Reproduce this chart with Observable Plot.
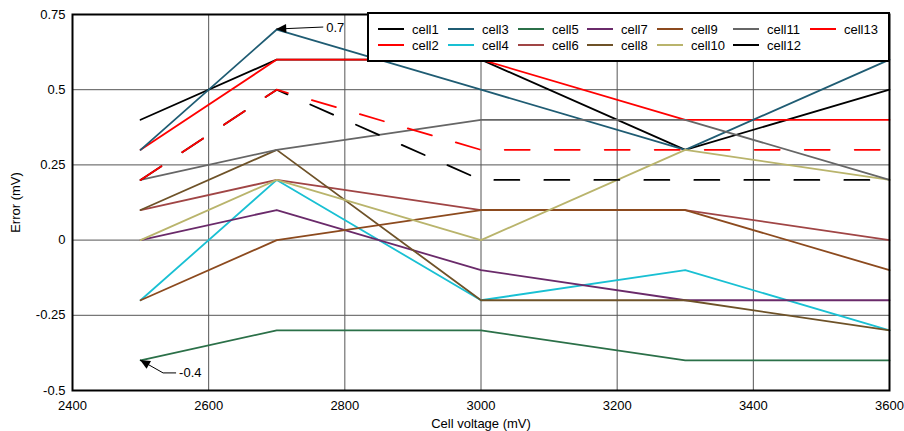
<!DOCTYPE html>
<html>
<head>
<meta charset="utf-8">
<script src="https://cdn.jsdelivr.net/npm/d3@7"></script>
<script src="https://cdn.jsdelivr.net/npm/@observablehq/plot@0.6"></script>
<style>
  html, body { margin: 0; padding: 0; background: #fff; }
  svg { font-family: "Liberation Sans", Arial, sans-serif; }
</style>
</head>
<body>
<div id="chart"></div>
<script>
// ---- data ----
const voltages = [2500, 2700, 3000, 3300, 3600];
const cells = ["cell1","cell2","cell3","cell4","cell5","cell6","cell7","cell8","cell9","cell10","cell11","cell12","cell13"];
const cell1  = [0.4, 0.6, 0.6, 0.3, 0.5];
const cell2  = [0.3, 0.6, 0.6, 0.4, 0.4];
const cell3  = [0.3, 0.7, 0.5, 0.3, 0.6];
const cell4  = [-0.2, 0.2, -0.2, -0.1, -0.3];
const cell5  = [-0.4, -0.3, -0.3, -0.4, -0.4];
const cell6  = [0.1, 0.2, 0.1, 0.1, 0.0];
const cell7  = [0.0, 0.1, -0.1, -0.2, -0.2];
const cell8  = [0.1, 0.3, -0.2, -0.2, -0.3];
const cell9  = [-0.2, 0.0, 0.1, 0.1, -0.1];
const cell10 = [0.0, 0.2, 0.0, 0.3, 0.2];
const cell11 = [0.2, 0.3, 0.4, 0.4, 0.2];
const cell12 = [0.2, 0.5, 0.2, 0.2, 0.2];
const cell13 = [0.2, 0.5, 0.3, 0.3, 0.3];
const seriesValues = [cell1,cell2,cell3,cell4,cell5,cell6,cell7,cell8,cell9,cell10,cell11,cell12,cell13];
const dashedCells = ["cell12", "cell13"];
const colors = ["#000000","#ff0000","#1f5c73","#19c0d3","#2b7048","#a04545","#6a2a6a","#6e5228","#8c4a1e","#b9b46c","#666666","#000000","#ff0000"];
const xTicks = [2400, 2600, 2800, 3000, 3200, 3400, 3600];
const yTicks = [-0.5, -0.25, 0, 0.25, 0.5, 0.75];
const annotations = [
  {cell: "cell3", x: 2700, y: 0.7, label: "0.7"},
  {cell: "cell5", x: 2500, y: -0.4, label: "-0.4"}
];

// long table built from the arrays
const rows = [];
cells.forEach((c, i) => seriesValues[i].forEach((v, j) => rows.push({cell: c, order: i, x: voltages[j], y: v})));
const colorOf = Object.fromEntries(cells.map((c, i) => [c, colors[i]]));

function addText(g, x, y, s) {
  return g.append("text").attr("x", x).attr("y", y).attr("dy", "0.35em")
    .attr("text-anchor", "start").style("text-anchor", "start")
    .style("font-size", "13px").style("font-family", "Liberation Sans, Arial, sans-serif")
    .attr("fill", "#000").text(s);
}

// legend (inside the plot area, top right)
function legendMark(index, scales, values, dim) {
  const g = d3.create("svg:g");
  const left = 368, top = 13, right = dim.width - dim.marginRight, bottom = 61;
  g.append("rect").attr("x", left).attr("y", top).attr("width", right - left).attr("height", bottom - top)
    .attr("fill", "#fff").attr("stroke", "#000").attr("stroke-width", 2);
  const colX = [378, 448, 518, 587, 657, 733, 810];
  const rowY = [29, 45];
  cells.forEach((c, i) => {
    const col = Math.floor(i / 2), row = i % 2;
    const x = colX[col], y = rowY[row];
    g.append("line").attr("x1", x).attr("x2", x + 26).attr("y1", y).attr("y2", y)
      .attr("stroke", colorOf[c]).attr("stroke-width", 2);
    addText(g, x + 34, y, c);
  });
  return g.node();
}

// annotations with filled arrowheads
function annotationMark(index, scales) {
  const g = d3.create("svg:g");
  const arrowHead = (tx, ty, fx, fy) => {
    const a = Math.atan2(ty - fy, tx - fx), L = 10, W = 4.5;
    const bx = tx - L * Math.cos(a), by = ty - L * Math.sin(a);
    const px = -Math.sin(a) * W, py = Math.cos(a) * W;
    g.append("path").attr("d", `M${tx},${ty}L${bx + px},${by + py}L${bx - px},${by - py}Z`).attr("fill", "#000");
  };
  // 0.7
  {
    const a = annotations[0];
    const tx = scales.x(a.x), ty = scales.y(a.y);
    const ex = tx + 47, ey = ty - 2;
    g.append("line").attr("x1", tx).attr("y1", ty).attr("x2", ex).attr("y2", ey).attr("stroke", "#000").attr("stroke-width", 1);
    arrowHead(tx, ty, ex, ey);
    addText(g, ex + 3, ey, a.label);
  }
  // -0.4
  {
    const a = annotations[1];
    const tx = scales.x(a.x), ty = scales.y(a.y);
    const mx = tx + 23, my = ty + 13, ex = mx + 13;
    g.append("path").attr("d", `M${tx},${ty}L${mx},${my}L${ex},${my}`).attr("fill", "none").attr("stroke", "#000").attr("stroke-width", 1);
    arrowHead(tx, ty, mx, my);
    addText(g, ex + 3, my, a.label);
  }
  return g.node();
}

const chart = Plot.plot({
  width: 904,
  height: 431,
  marginLeft: 72,
  marginRight: 15,
  marginTop: 14,
  marginBottom: 41,
  style: {fontFamily: "Liberation Sans, Arial, sans-serif", fontSize: "13px", color: "#000", background: "#fff"},
  x: {domain: [2400, 3600], ticks: xTicks, tickFormat: d => String(d), tickSize: 0, tickPadding: 10,
      label: "Cell voltage (mV)", labelAnchor: "center", labelOffset: 37, labelArrow: false},
  y: {domain: [-0.5, 0.75], ticks: yTicks, tickFormat: d => String(d), tickSize: 0, tickPadding: 7,
      label: "Error (mV)", labelAnchor: "center", labelOffset: 62, labelArrow: false},
  color: {domain: cells, range: colors},
  marks: [
    Plot.gridX(xTicks.slice(1, -1), {stroke: "#555", strokeOpacity: 1, strokeWidth: 1}),
    Plot.gridY(yTicks.slice(1, -1), {stroke: "#555", strokeOpacity: 1, strokeWidth: 1}),
    ...cells.map(c => Plot.line(rows.filter(d => d.cell === c), {
      x: "x", y: "y", stroke: "cell", strokeWidth: 1.8,
      strokeDasharray: dashedCells.includes(c) ? "25,25" : null
    })),
    Plot.frame({stroke: "#000", strokeWidth: 2}),
    legendMark,
    annotationMark
  ]
});
document.getElementById("chart").appendChild(chart);
</script>
</body>
</html>
